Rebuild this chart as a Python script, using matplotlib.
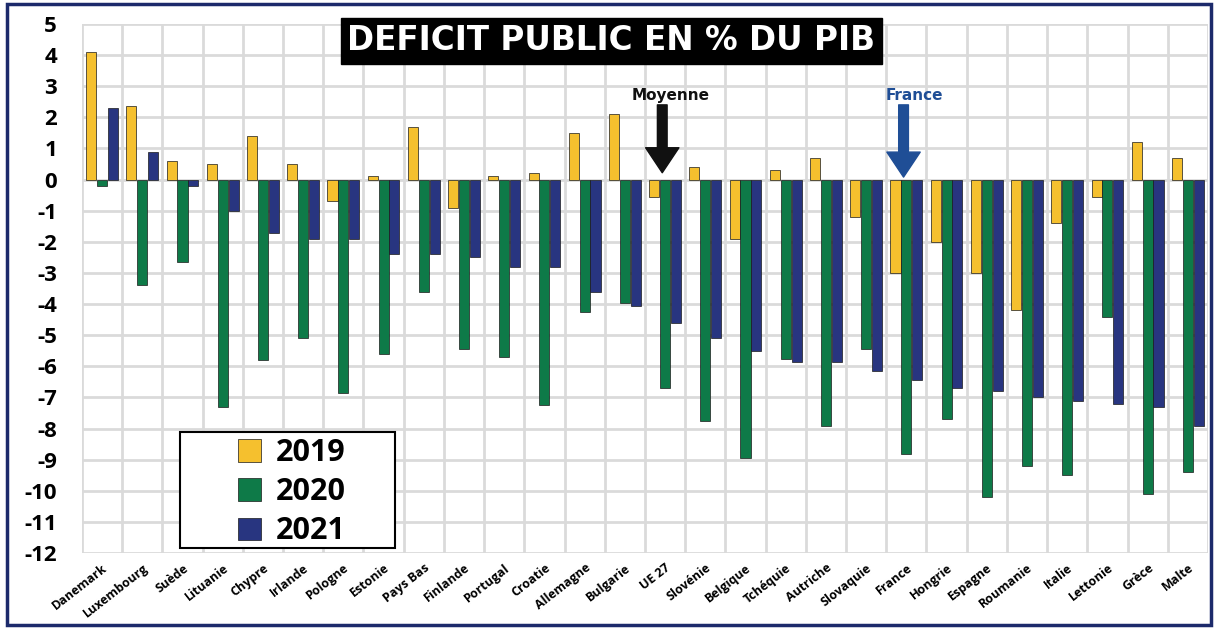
import numpy as np
import matplotlib.pyplot as plt
from matplotlib.patches import Rectangle

pays = ['Danemark', 'Luxembourg', 'Suède', 'Lituanie', 'Chypre', 'Irlande',
        'Pologne', 'Estonie', 'Pays Bas', 'Finlande', 'Portugal', 'Croatie',
        'Allemagne', 'Bulgarie', 'UE 27', 'Slovénie', 'Belgique', 'Tchéquie',
        'Autriche', 'Slovaquie', 'France', 'Hongrie', 'Espagne', 'Roumanie',
        'Italie', 'Lettonie', 'Grèce', 'Malte']

d2019 = [4.1, 2.35, 0.6, 0.5, 1.4, 0.5, -0.7, 0.1, 1.7, -0.9, 0.1, 0.2,
         1.5, 2.1, -0.55, 0.4, -1.9, 0.3, 0.7, -1.2, -3.0, -2.0, -3.0, -4.2,
         -1.4, -0.55, 1.2, 0.7]
d2020 = [-0.2, -3.4, -2.65, -7.3, -5.8, -5.1, -6.85, -5.6, -3.6, -5.45, -5.7, -7.25,
         -4.25, -3.95, -6.7, -7.75, -8.95, -5.75, -7.9, -5.45, -8.8, -7.7, -10.2, -9.2,
         -9.5, -4.4, -10.1, -9.4]
d2021 = [2.3, 0.9, -0.2, -1.0, -1.7, -1.9, -1.9, -2.4, -2.4, -2.5, -2.8, -2.8,
         -3.6, -4.05, -4.6, -5.1, -5.5, -5.85, -5.85, -6.15, -6.45, -6.7, -6.8, -7.0,
         -7.1, -7.2, -7.3, -7.9]

annees = ['2019', '2020', '2021']
couleurs = ['#f5c02e', '#0e7a48', '#283580']

fig = plt.figure(figsize=(12.16, 6.3), dpi=100)
ax = fig.add_axes([0.0674, 0.122, 0.926, 0.840])

x = np.arange(len(pays))
w = 0.25
for k, (vals, c, lab) in enumerate(zip([d2019, d2020, d2021], couleurs, annees)):
    ax.bar(x + (k - 1) * 0.27, vals, width=w, color=c, edgecolor='#1a1a1a',
           linewidth=0.5, label=lab, zorder=3)

ax.set_xlim(-0.5, len(pays) - 0.5)
ax.set_ylim(-12, 5)
ax.set_yticks(range(-12, 6))
ax.set_yticklabels([str(v) for v in range(-12, 6)], fontsize=16,
                   fontweight='bold', family='Open Sans')
ax.set_xticks(x)
ax.set_xticklabels(pays, rotation=38, ha='right', rotation_mode='anchor',
                   fontsize=9, fontweight='bold', family='Open Sans')
ax.tick_params(axis='x', length=0, pad=6)
ax.tick_params(axis='y', length=0, pad=18)

for v in range(-12, 6):
    ax.axhline(v, color='#dadada', lw=2, zorder=0)
for b in np.arange(-0.5, len(pays), 1.0):
    ax.axvline(b, color='#dadada', lw=2, zorder=0)
for s in ax.spines.values():
    s.set_visible(False)

# titre
ax.text(0.47, 0.968, 'DEFICIT PUBLIC EN % DU PIB', transform=ax.transAxes,
        ha='center', va='center', color='white', fontsize=23.5, fontweight='bold',
        family='DejaVu Sans',
        bbox=dict(boxstyle='square,pad=0.2', fc='black', ec='black'), zorder=6)

# fleches
ax.annotate('', xy=(13.93, 0.22), xytext=(13.93, 2.4),
            arrowprops=dict(width=7, headwidth=24, headlength=18, color='#111111'),
            zorder=5)
ax.text(14.13, 2.7, 'Moyenne', ha='center', va='center', fontsize=11,
        fontweight='bold', color='#111111', family='DejaVu Sans', zorder=5)
ax.annotate('', xy=(19.93, 0.08), xytext=(19.93, 2.4),
            arrowprops=dict(width=7, headwidth=24, headlength=18, color='#1f4e96'),
            zorder=5)
ax.text(20.2, 2.7, 'France', ha='center', va='center', fontsize=11,
        fontweight='bold', color='#1f4e96', family='DejaVu Sans', zorder=5)

# légende dans un cadre
ax.add_patch(Rectangle((0.087, 0.0095), 0.191, 0.2195, transform=ax.transAxes,
                       fc='white', ec='black', lw=1.5, zorder=6))
leg = ax.legend(loc='center left', bbox_to_anchor=(0.125, 0.115), frameon=False,
                handlelength=0.75, handleheight=0.75, handletextpad=0.5,
                borderpad=0.0, labelspacing=0.3,
                prop=dict(size=22, weight='bold', family='Open Sans'))
leg.set_zorder(7)

fig.patches.append(Rectangle((0.006, 0.008), 0.99, 0.985, transform=fig.transFigure,
                             fill=False, ec='#1c2a6b', lw=2.5))

fig.savefig('out.png', dpi=100)
